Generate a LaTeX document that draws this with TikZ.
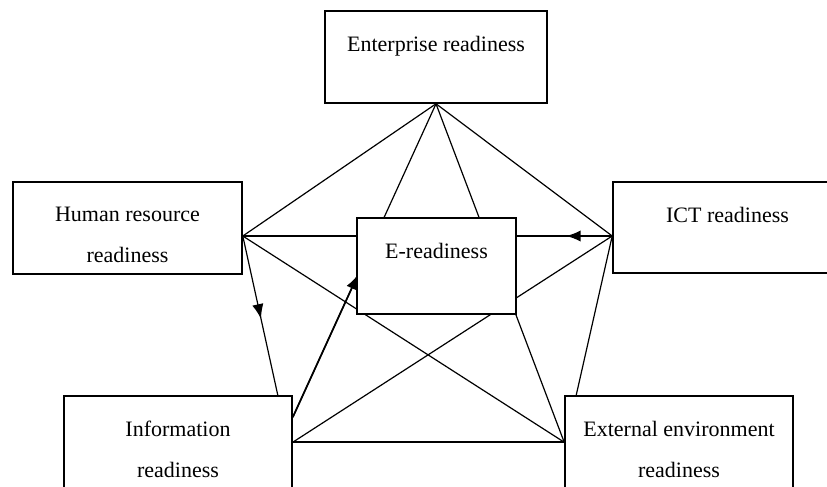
\documentclass[tikz,border=0pt]{standalone}
\usepackage{fontspec}
\setmainfont{Liberation Serif}
\usetikzlibrary{arrows.meta,calc,backgrounds,decorations.markings}

\tikzset{
  caja/.style={draw, fill=white, line width=1.2pt, inner sep=0pt},
  texto/.style={anchor=north, yshift=-19.5pt, align=center, inner sep=0pt,
    font=\fontsize{16.5pt}{30.75pt}\selectfont},
  enlace/.style={line width=0.9pt},
  enlacefuerte/.style={line width=1.3pt},
  flecha/.style={postaction={decorate},
    decoration={markings, mark=at position #1 with {\arrow{>}}}},
}

\begin{document}
\begin{tikzpicture}[>={Latex[length=11pt,width=8.5pt]}, x=0.75pt, y=-0.75pt]
    \useasboundingbox (0,0) rectangle (827,486);
    % Cajas
    \node[caja, minimum width=166.5pt, minimum height=69pt,
      label={[texto]north:Enterprise readiness}] (ent) at (436,57) {};
    \node[caja, minimum width=171.75pt, minimum height=69pt,
      label={[texto]north:Human resource\\readiness}] (hr) at (127.5,228) {};
    \node[caja, minimum width=171.75pt, minimum height=68.25pt,
      label={[texto]north:ICT readiness}] (ict) at (727.5,227.5) {};
    \node[caja, minimum width=119.25pt, minimum height=72pt,
      label={[texto]north:E-readiness}] (ered) at (436.5,266) {};
    \node[caja, minimum width=171pt, minimum height=69pt,
      label={[texto]north:Information\\readiness}] (inf) at (178,442) {};
    \node[caja, minimum width=171pt, minimum height=69pt,
      label={[texto]north:External environment\\readiness}] (ext) at (679,442) {};
    % Puntos de enlace
    \coordinate (hrA) at ($(hr.east)+(0,8)$);
    \coordinate (ictA) at ($(ict.west)+(0,8.5)$);
    \coordinate (infA) at ($(inf.north east)+(0,47)$);
    \coordinate (infB) at ($(inf.north east)+(0,22)$);
    \coordinate (infT) at ($(inf.north east)+(-15,0)$);
    \coordinate (extA) at ($(ext.north west)+(0,47)$);
    \coordinate (extT) at ($(ext.north west)+(12,0)$);
    % Enlaces (debajo de las cajas)
    \begin{scope}[on background layer]
      \draw[enlace] (ent.south) -- (hrA);
      \draw[enlace] (ent.south) -- (ictA);
      \draw[enlace] (ent.south) -- (infB);
      \draw[enlace] (ent.south) -- (extA);
      \draw[enlace] (hrA) -- (extA);
      \draw[enlace] (ictA) -- (infA);
      \draw[enlace] (ictA) -- (extT);
      \draw[enlace, flecha=0.52] (hrA) -- (infT);
      \draw[enlacefuerte, flecha=0.125] (ictA) -- (hrA);
      \draw[enlacefuerte] (infA) -- (extA);
      \draw[enlacefuerte, ->] (infB) -- ($(infB)!0.4545!(ent.south)$);
    \end{scope}
\end{tikzpicture}
\end{document}
